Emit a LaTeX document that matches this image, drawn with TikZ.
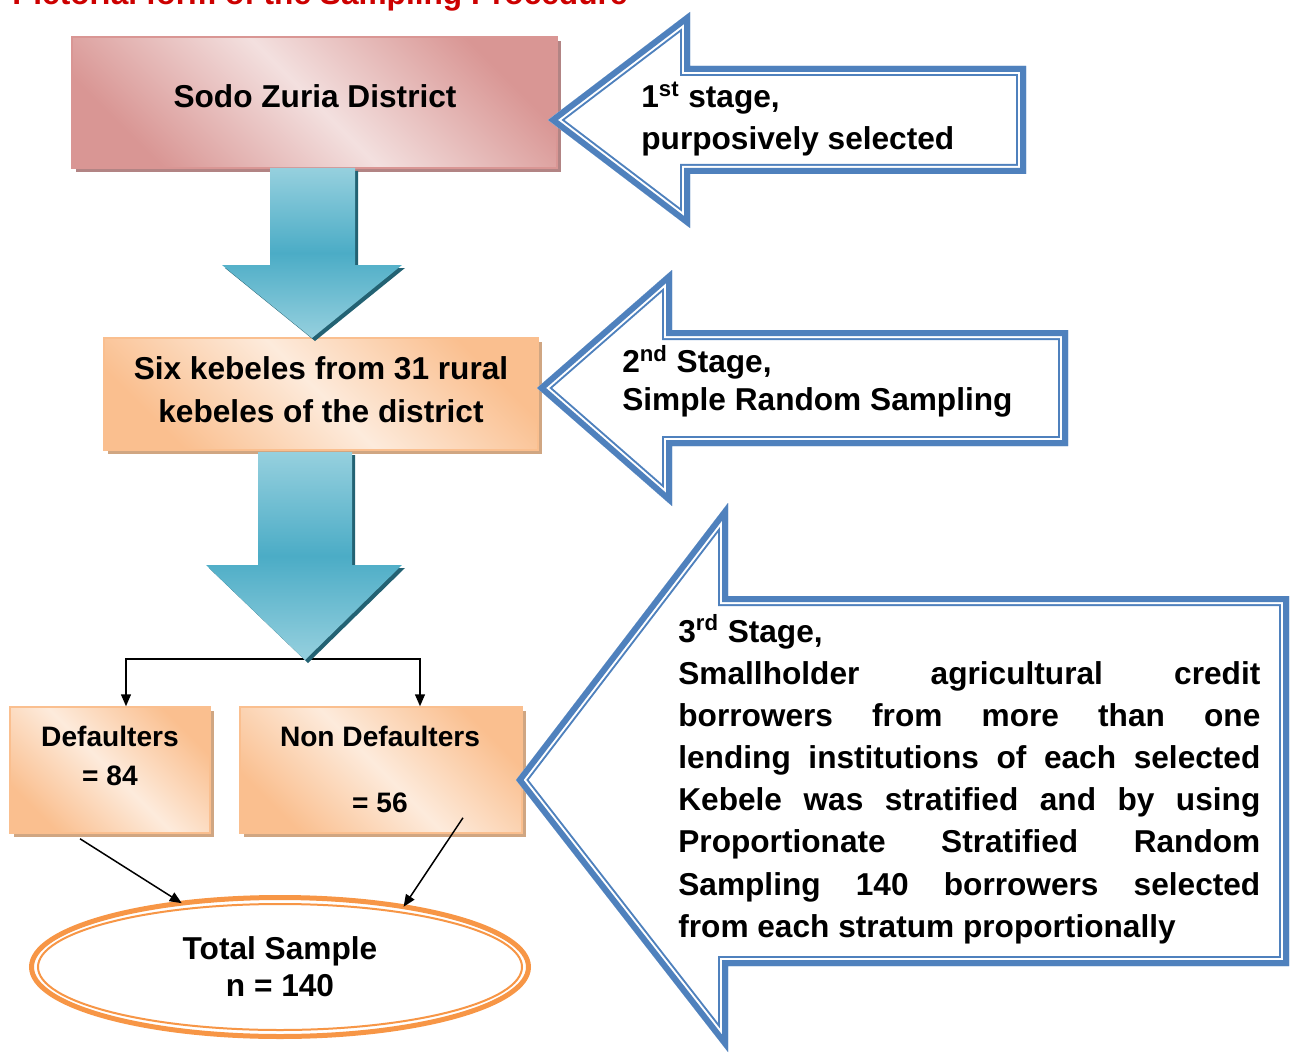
\documentclass[tikz,border=0pt]{standalone}
\usepackage{fontspec}
\setmainfont{Liberation Sans}
\usepackage{tikz}
\usetikzlibrary{arrows.meta, positioning, shapes.geometric, shadows}
\definecolor{titlered}{RGB}{204,0,0}
\definecolor{rosedark}{RGB}{217,150,148}
\definecolor{roselight}{RGB}{243,224,223}
\definecolor{roseshadow}{RGB}{178,132,132}
\definecolor{peachdark}{RGB}{250,191,143}
\definecolor{peachlight}{RGB}{253,235,220}
\definecolor{peachshadow}{RGB}{208,166,130}
\definecolor{tealmid}{RGB}{75,172,198}
\definecolor{teallight}{RGB}{150,208,222}
\definecolor{tealshadow}{RGB}{35,98,115}
\definecolor{stageblue}{RGB}{79,129,189}
\definecolor{ringorange}{RGB}{247,150,70}

% thick-thin outline drawn inside a closed path
\newcommand{\stageoutline}[1]{%
  \begin{scope}
    \clip #1;
    \draw[stageblue, line width=4mm] #1;
    \draw[white, line width=3.2mm] #1;
    \draw[stageblue, line width=2.4mm] #1;
  \end{scope}}

\begin{document}
\begin{tikzpicture}[
    x=0.2mm, y=-0.2mm,
    roseblock/.style={draw=rosedark, line width=0.3mm, top color=rosedark, bottom color=rosedark, middle color=roselight, shading angle=-45,
        drop shadow={shadow xshift=0.8mm, shadow yshift=-0.8mm, fill=roseshadow, opacity=1}},
    peachblock/.style={draw=peachdark, line width=0.3mm, top color=peachdark, bottom color=peachdark, middle color=peachlight, shading angle=-45,
        drop shadow={shadow xshift=0.8mm, shadow yshift=-0.8mm, fill=peachshadow, opacity=1}},
    tealarrow/.style={top color=teallight, bottom color=teallight, middle color=tealmid,
        drop shadow={shadow xshift=0.6mm, shadow yshift=-0.6mm, fill=tealshadow, opacity=1}},
    boxtext/.style={font=\fontsize{18}{24}\selectfont\bfseries, align=center, inner sep=0pt, anchor=base},
    smalltext/.style={font=\fontsize{16}{22}\selectfont\bfseries, align=center, inner sep=0pt, anchor=base},
    stagetext/.style={font=\fontsize{18}{24}\selectfont\bfseries, align=left, inner sep=0pt, anchor=base west},
    ring/.style={ellipse, draw=ringorange, line width=1mm, fill=white, minimum width=99.4mm, minimum height=27.8mm,
        inner sep=0pt, outer sep=0pt, font=\fontsize{18}{21}\selectfont\bfseries, align=center},
    flow/.style={-{Triangle[length=2.4mm, width=2mm]}, line width=0.3mm, black}
]
    \useasboundingbox (0,0) rectangle (1290,1055);
    \clip (0,0) rectangle (1290,1055);

    % Title
    \node[font=\fontsize{18}{24}\selectfont\bfseries, text=titlered, inner sep=0pt, anchor=base west] (title) at (12,5) {Pictorial form of the Sampling Procedure};

    % Boxes
    \node[roseblock, minimum width=97mm, minimum height=26.2mm] (district) at (314.5,102.5) {};
    \node[peachblock, minimum width=86.8mm, minimum height=22.4mm] (kebeles) at (321,394) {};
    \node[peachblock, minimum width=40mm, minimum height=25.2mm] (defaulters) at (110,770) {};
    \node[peachblock, minimum width=56.4mm, minimum height=25.2mm] (nondefaulters) at (381,770) {};

    % Box texts (base = last line)
    \node[boxtext] (districttext) at (315,108) {Sodo Zuria District};
    \node[boxtext] (kebelestext) at (321,422) {Six kebeles from 31 rural\\kebeles of the district};
    \node[smalltext] (defaulterstext) at (110,785) {Defaulters\\= 84};
    \node[smalltext] (nondefaulterstext) at (380,812) {Non Defaulters\\[5.4mm]= 56};

    % Total sample
    \node[ring] (total) at (280,967) {Total Sample\\n = 140};
    \draw[ringorange, line width=0.4mm] (total.center) ellipse [x radius=48.4mm, y radius=12.6mm];

    % Split into strata
    \coordinate (split) at (305,659);
    \draw[flow] (split) -| ([xshift=3.2mm]defaulters.north);
    \draw[flow] (split) -| ([xshift=7.8mm]nondefaulters.north);

    % Strata to total
    \draw[flow] ([xshift=-6mm, yshift=-1mm]defaulters.south) -- (total.147);
    \draw[flow] ([xshift=16.4mm, yshift=3.2mm]nondefaulters.south) -- (total.26);

    % Down arrows
    \path[tealarrow] (270,168) -- (355,168) -- (355,265) -- (402,265) -- (312,338) -- (222,265) -- (270,265) -- cycle;
    \path[tealarrow] (258,452) -- (352,452) -- (352,565) -- (402,565) -- (305,660) -- (206,565) -- (258,565) -- cycle;

    % Stage arrows
    \stageoutline{(548,120) -- (690,12) -- (690,66) -- (1026,66) -- (1026,174) -- (690,174) -- (690,228) -- cycle}
    \stageoutline{(537,388) -- (672,270) -- (672,330) -- (1068,330) -- (1068,446) -- (672,446) -- (672,506) -- cycle}
    \stageoutline{(516,780) -- (728,503) -- (728,596) -- (1289,596) -- (1289,966) -- (728,966) -- (728,1052) -- cycle}

    % Stage texts
    \node[stagetext] (stage1text) at (641,150) {1\textsuperscript{st} stage,\\purposively selected};
    \node[stagetext, font=\fontsize{18}{21.5}\selectfont\bfseries] (stage2text) at (622,410) {2\textsuperscript{nd} Stage,\\Simple Random Sampling};
    \node[stagetext, text width=116.4mm, align=justify] (stage3text) at (678,642) {3\textsuperscript{rd} Stage,\\Smallholder agricultural credit\linebreak borrowers from more than one\linebreak lending institutions of each selected\linebreak Kebele was stratified and by using\linebreak Proportionate Stratified Random\linebreak Sampling 140 borrowers selected\linebreak from each stratum proportionally};
\end{tikzpicture}
\end{document}
